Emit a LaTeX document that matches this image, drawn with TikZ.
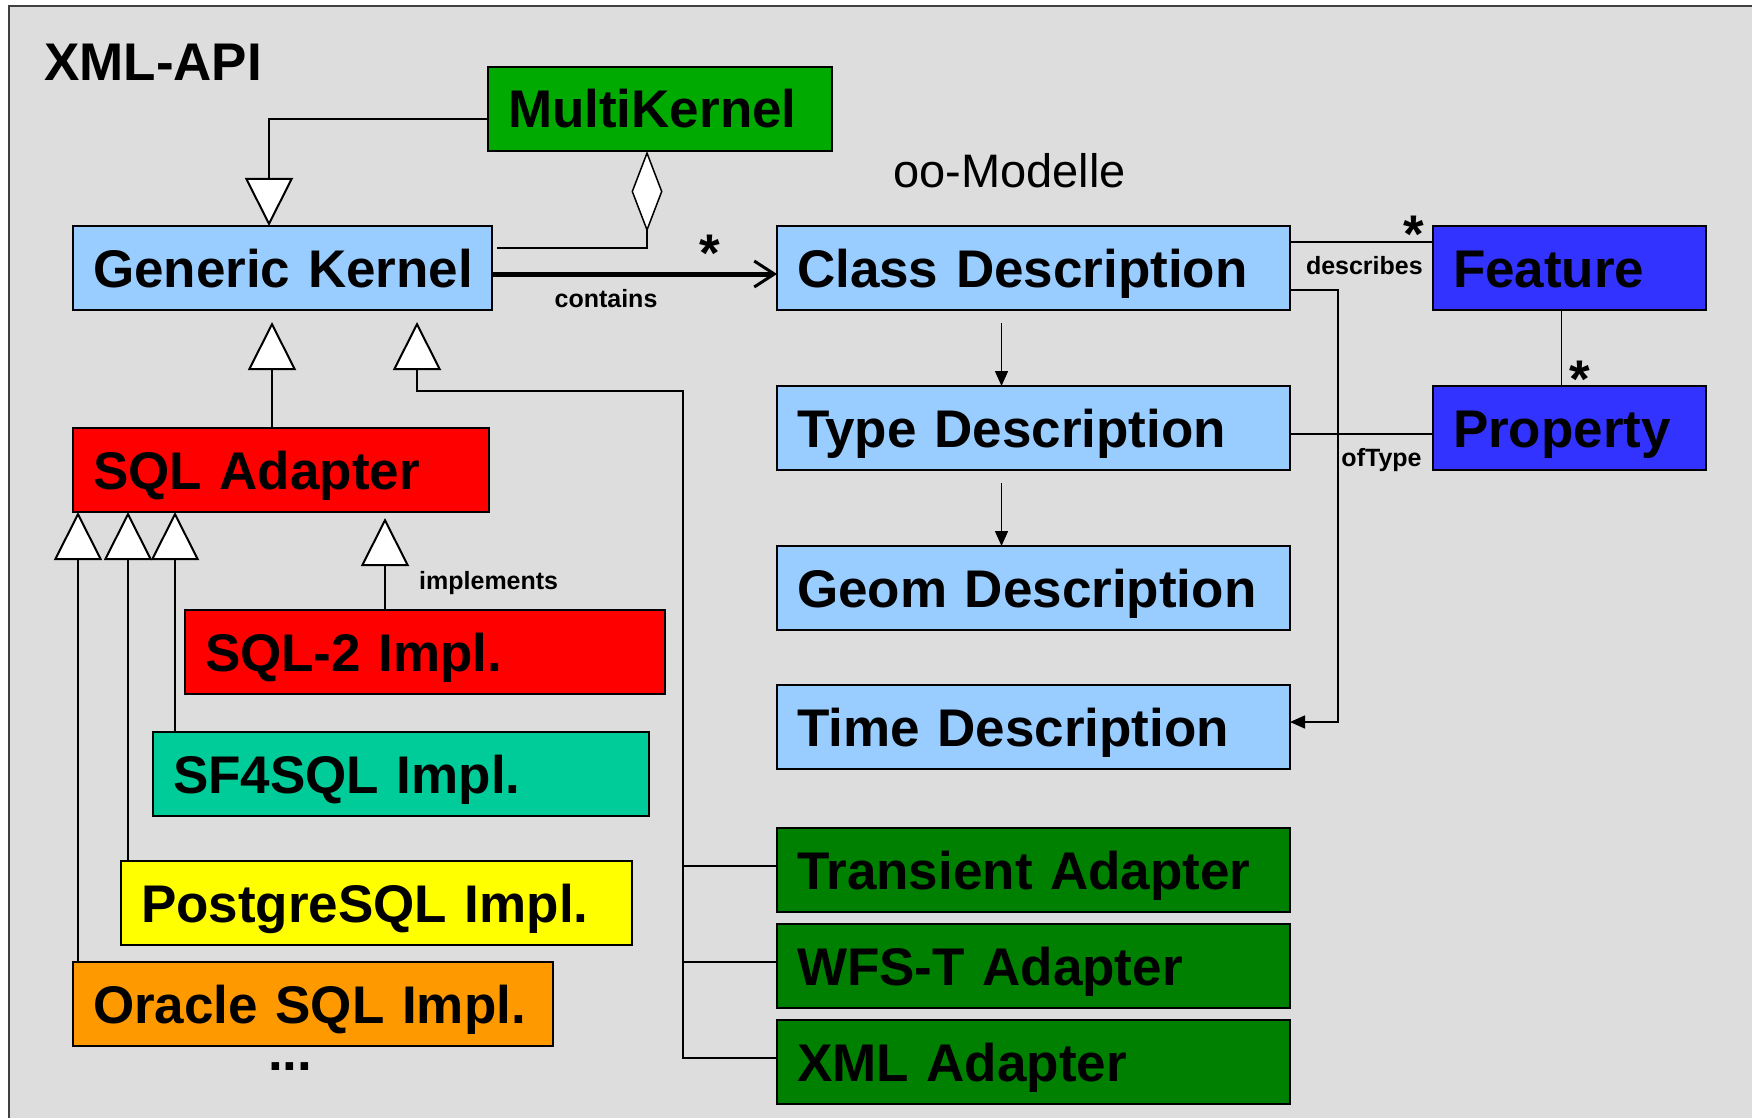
\documentclass[tikz,border=0pt]{standalone}
\usepackage{fontspec}
\setmainfont{Liberation Sans}
\usetikzlibrary{positioning}
\usetikzlibrary{arrows.meta}

\definecolor{bggray}{HTML}{DDDDDD}
\definecolor{descblue}{HTML}{99CCFF}
\definecolor{kerngreen}{HTML}{00AA00}
\definecolor{sqlred}{HTML}{FF0000}
\definecolor{sfteal}{HTML}{00CC99}
\definecolor{pgyellow}{HTML}{FFFF00}
\definecolor{oraorange}{HTML}{FF9900}
\definecolor{adgreen}{HTML}{008000}
\definecolor{featblue}{HTML}{3333FF}

\newcommand{\boxfont}{\fontsize{53}{60}\selectfont\bfseries}
\newcommand{\lblfont}{\fontsize{25}{30}\selectfont\bfseries}

\begin{document}
\begin{tikzpicture}[x=1pt, y=-1pt, node distance=76pt,
  box/.style={draw, line width=2.5pt, anchor=north west, minimum height=84pt,
    inner xsep=20pt, inner ysep=0pt, outer sep=0pt, text height=38pt, text depth=0pt,
    align=left, font=\boxfont},
  conn/.style={draw, line width=1.5pt},
  gen/.style={conn, -{Triangle[length=48pt, width=48pt, fill=white, line width=2pt]}},
  agg/.style={conn, -{Diamond[length=81pt, width=31pt, fill=white, line width=1.5pt]}},
  arr/.style={conn, -{Triangle[length=15pt, width=13pt]}},
  lbl/.style={inner sep=0pt, font=\lblfont},
  star/.style={inner sep=0pt, anchor=base, font=\boxfont}]

\useasboundingbox (0,0) rectangle (1752,1118);
\fill[bggray] (9,6) rectangle (1752,1118);
\draw[black!75, line width=2pt] (9,1118) |- (1752,6);

\node[anchor=base west, inner sep=0pt, font=\boxfont] (title) at (44,81) {XML-API};

% kernel side
\node[box, fill=kerngreen, text width=304pt] (multi_k) at (488,67) {MultiKernel};
\node[box, fill=descblue, text width=379pt] (gen_k) at (73,226) {\mbox{Generic Kernel}};
\node[box, fill=sqlred, text width=376pt] (sql_a) at (73,428) {SQL Adapter};
\node[box, fill=sqlred, text width=440pt] (sql_2) at (185,610) {SQL-2 Impl.};
\node[box, fill=sfteal, text width=456pt] (sf_4) at (153,732) {SF4SQL Impl.};
\node[box, fill=pgyellow, text width=471pt] (pg) at (121,861) {PostgreSQL Impl.};
\node[box, fill=oraorange, text width=440pt] (ora) at (73,962) {Oracle SQL Impl.};

% model side
\node[box, fill=descblue, text width=473pt] (cls_d) at (777,226) {Class Description};
\node[box, fill=descblue, text width=473pt, below=of cls_d] (type_d) {Type Description};
\node[box, fill=descblue, text width=473pt, below=of type_d] (geom_d) {Geom Description};
\node[box, fill=descblue, text width=473pt, below=55pt of geom_d] (time_d) {Time Description};
\node[box, fill=featblue, text width=233pt, right=143pt of cls_d] (feat) {Feature};
\node[box, fill=featblue, text width=233pt, below=of feat] (prop) {Property};

% adapters
\node[box, fill=adgreen, text width=473pt, below=59pt of time_d] (trans_a) {Transient Adapter};
\node[box, fill=adgreen, text width=473pt, below=12pt of trans_a] (wfs_a) {WFS-T Adapter};
\node[box, fill=adgreen, text width=473pt, below=12pt of wfs_a] (xml_a) {XML Adapter};

\node[anchor=base west, inner sep=0pt, font=\fontsize{47}{54}\selectfont]
  (oo) at ([xshift=116pt, yshift=39pt]cls_d.north west) {oo-Modelle};
\node[anchor=base west, inner sep=0pt, font=\boxfont]
  (more) at ([xshift=195pt, yshift=-24pt]ora.south west) {...};

\coordinate (bus) at (683,391);

\draw[gen] ([yshift=-10pt]multi_k.west) -| ([xshift=196pt]gen_k.north west);
\draw[agg] ([xshift=5pt, yshift=20pt]gen_k.east) -| ([xshift=159pt]multi_k.south west);
\draw[line width=5pt, -{Straight Barb[length=20pt, width=26pt, line width=3pt]}]
  ([yshift=-6pt]gen_k.east) -- node[lbl, pos=0.4, below=13pt] {contains}
  ([yshift=-6pt]gen_k.east -| cls_d.west);

\draw[gen] ([xshift=-9pt]sql_a.north) -- ([xshift=-9pt, yshift=-12pt]sql_a.north |- gen_k.south);
\draw[gen] ([yshift=4pt]xml_a.west) -| (bus) -| ([xshift=344pt, yshift=-12pt]gen_k.south west);
\draw[conn] ([yshift=4pt]trans_a.west) -- ([yshift=4pt]trans_a.west -| bus);
\draw[conn] ([yshift=4pt]wfs_a.west) -- ([yshift=4pt]wfs_a.west -| bus);

\draw[gen] ([xshift=5pt]ora.north west) -- ([xshift=5pt]ora.north west |- sql_a.south);
\draw[gen] ([xshift=7pt]pg.north west) -- ([xshift=7pt]pg.north west |- sql_a.south);
\draw[gen] ([xshift=22pt]sf_4.north west) -- ([xshift=22pt]sf_4.north west |- sql_a.south);
\draw[gen] ([xshift=200pt]sql_2.north west) -- ([xshift=200pt, yshift=-6pt]sql_2.north west |- sql_a.south);
\node[lbl, anchor=base west] (impl) at ([xshift=234pt, yshift=21pt]sql_2.north west) {implements};

\draw[arr] ([xshift=-32pt, yshift=-13pt]cls_d.south) -- ([xshift=-32pt]type_d.north);
\draw[arr] ([xshift=-32pt, yshift=-13pt]type_d.south) -- ([xshift=-32pt]geom_d.north);
\draw[arr] ([yshift=-22pt]cls_d.east) -- ++(48,0) |- ([yshift=5pt]time_d.east);

\draw[conn] ([yshift=26pt]cls_d.east) -- node[lbl, pos=0.52, below=14pt] {describes}
  ([yshift=26pt]cls_d.east -| feat.west);
\draw[conn] ([yshift=-6pt]type_d.east) -- node[lbl, pos=0.64, below=14pt] {ofType}
  ([yshift=-6pt]type_d.east -| prop.west);
\draw[conn] ([xshift=-8pt]feat.south) -- ([xshift=-8pt]prop.north);

\node[star] (m_1) at (710,271) {*};
\node[star] (m_2) at (1414,252) {*};
\node[star] (m_3) at (1580,397) {*};

\end{tikzpicture}
\end{document}
